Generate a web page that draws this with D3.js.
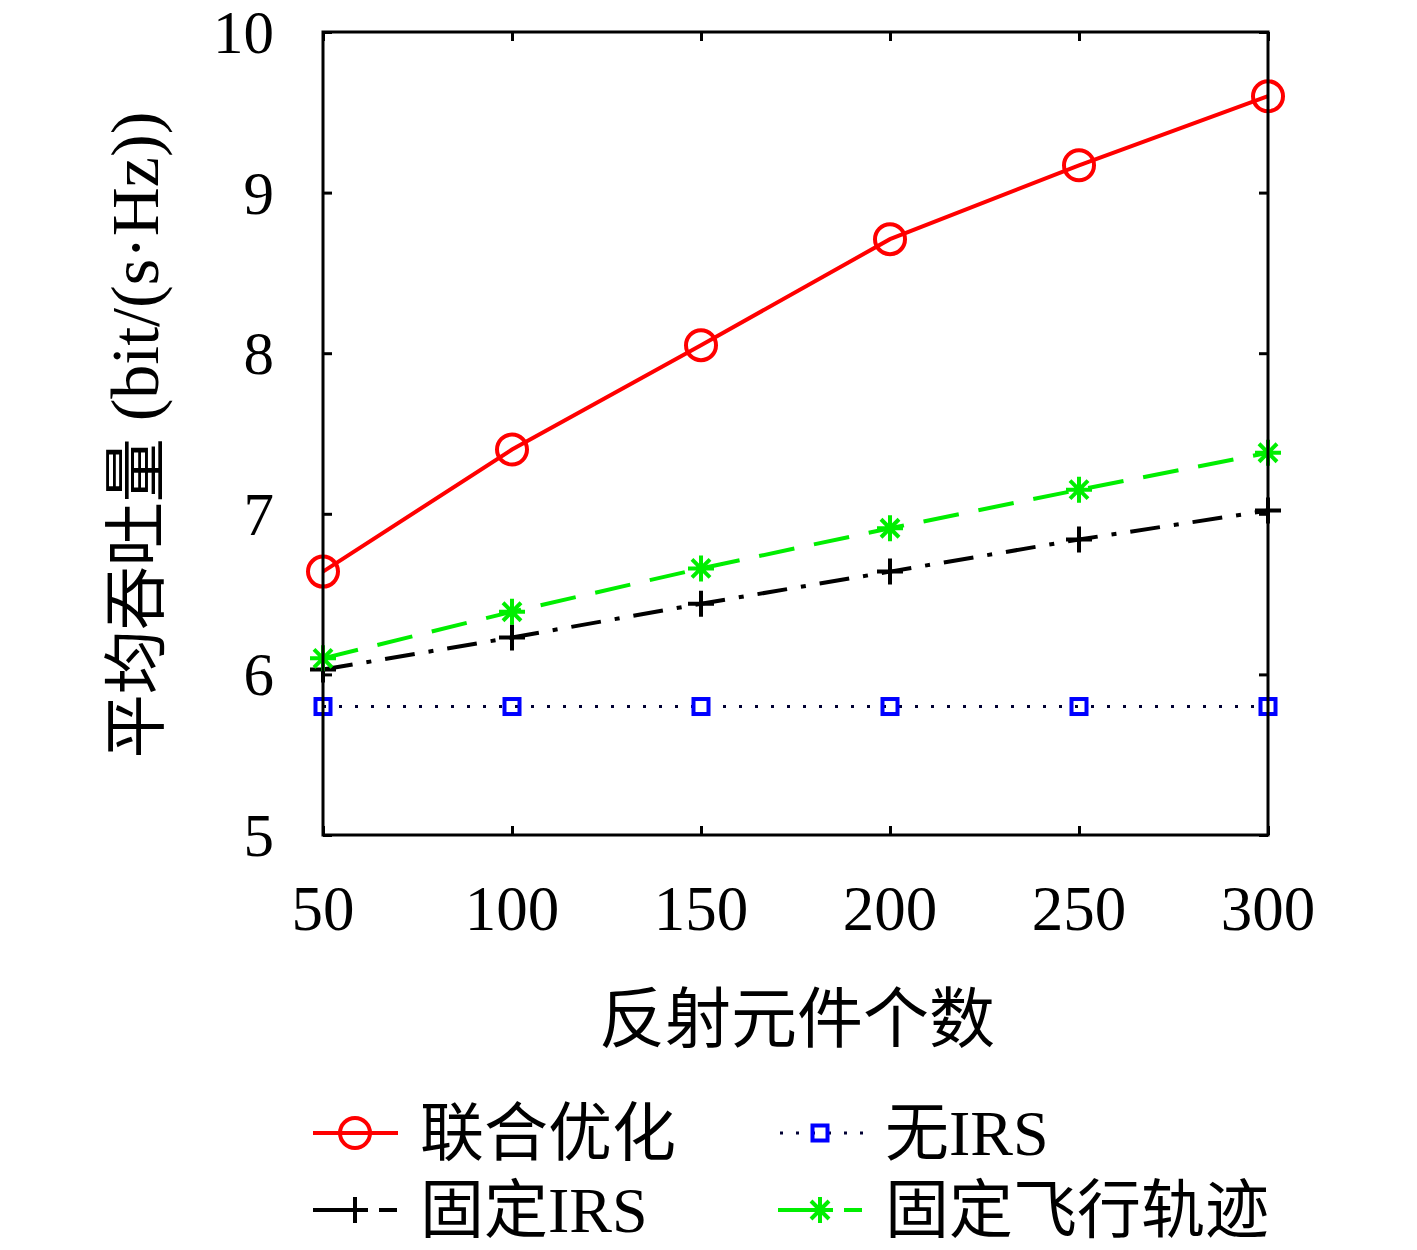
<!DOCTYPE html>
<html>
<head>
<meta charset="utf-8">
<script src="https://cdn.jsdelivr.net/npm/d3@7"></script>
<style>
  body { margin: 0; background: #fff; }
  text { fill: #000; }
</style>
</head>
<body>
<script>
// data
const elements = [50, 100, 150, 200, 250, 300];
const jointOpt = [6.64, 7.40, 8.05, 8.71, 9.17, 9.60];
const noIRS = [5.80, 5.80, 5.80, 5.80, 5.80, 5.80];
const fixedIRS = [6.03, 6.23, 6.44, 6.64, 6.84, 7.02];
const fixedTraj = [6.10, 6.39, 6.66, 6.91, 7.15, 7.38];
const yTicks = [5, 6, 7, 8, 9, 10];

const W = 1417, H = 1250;
const m = {left: 323, right: 1268, top: 32, bottom: 835};
const serif = '"Liberation Serif", "DejaVu Serif", serif';
const cjk = '"Noto Sans CJK SC", sans-serif';

const svg = d3.select('body').append('svg')
  .attr('width', W).attr('height', H);

const x = d3.scaleLinear().domain([50, 300]).range([m.left, m.right]);
const y = d3.scaleLinear().domain([5, 10]).range([m.bottom, m.top]);

// inward ticks on all four sides
const tick = 9;
const gAx = svg.append('g');
gAx.append('g').attr('transform', `translate(0,${m.bottom})`)
  .call(d3.axisTop(x).tickValues(elements).tickSize(tick).tickFormat(''));
gAx.append('g').attr('transform', `translate(0,${m.top})`)
  .call(d3.axisBottom(x).tickValues(elements).tickSize(tick).tickFormat(''));
gAx.append('g').attr('transform', `translate(${m.left},0)`)
  .call(d3.axisRight(y).tickValues(yTicks).tickSize(tick).tickFormat(''));
gAx.append('g').attr('transform', `translate(${m.right},0)`)
  .call(d3.axisLeft(y).tickValues(yTicks).tickSize(tick).tickFormat(''));
gAx.selectAll('.domain').remove();
gAx.selectAll('.tick line').attr('stroke', '#000').attr('stroke-width', 3);

// tick labels
svg.append('g').selectAll('text').data(elements).join('text')
  .attr('x', d => x(d)).attr('y', 930)
  .attr('text-anchor', 'middle')
  .style('font-family', serif).style('font-size', '63px')
  .text(d => d);
svg.append('g').selectAll('text').data(yTicks).join('text')
  .attr('x', 274).attr('y', d => y(d) + 21)
  .attr('text-anchor', 'end')
  .style('font-family', serif).style('font-size', '61px')
  .text(d => d);

// axis titles
svg.append('text')
  .attr('x', 797).attr('y', 1042)
  .attr('text-anchor', 'middle')
  .style('font-family', cjk).style('font-size', '66px')
  .text('反射元件个数');
const yl = svg.append('text')
  .attr('transform', 'translate(158,435) rotate(-90)')
  .attr('text-anchor', 'middle')
  .style('font-size', '64px');
yl.append('tspan').style('font-family', cjk).text('平均吞吐量');
yl.append('tspan').style('font-family', serif).style('font-size', '68px').text(' (bit/(s·Hz))');

// series
const series = [
  {name: '联合优化', vals: jointOpt, color: '#ff0000', dash: null, legendDash: null, marker: 'circle'},
  {name: '无IRS', vals: noIRS, color: '#0000ff', line: '#000033', dash: '3,13', legendDash: '3,13', marker: 'square'},
  {name: '固定IRS', vals: fixedIRS, color: '#000000', dash: '30,14,5,14', legendDash: '48,18,18', marker: 'plus'},
  {name: '固定飞行轨迹', vals: fixedTraj, color: '#00ee00', dash: '36,20', legendDash: '48,18,18', marker: 'star'}
];

const line = d3.line().x((d, i) => x(elements[i])).y(d => y(d));

function drawMarker(g, type, color) {
  if (type === 'circle') {
    g.append('circle').attr('r', 15).attr('fill', 'none')
      .attr('stroke', color).attr('stroke-width', 4);
  } else if (type === 'square') {
    g.append('rect').attr('x', -7.5).attr('y', -7.5).attr('width', 15).attr('height', 15)
      .attr('fill', 'none').attr('stroke', color).attr('stroke-width', 4);
  } else if (type === 'plus') {
    g.append('path').attr('d', 'M-13,0H13M0,-13V13')
      .attr('stroke', color).attr('stroke-width', 4);
  } else if (type === 'star') {
    g.append('path').attr('d', 'M-13,0H13M0,-13V13M-9,-9L9,9M-9,9L9,-9')
      .attr('stroke', color).attr('stroke-width', 4);
  }
}

const plot = svg.append('g');
series.forEach(s => {
  plot.append('path').datum(s.vals)
    .attr('d', line)
    .attr('fill', 'none')
    .attr('stroke', s.line || s.color)
    .attr('stroke-width', s.marker === 'square' ? 3 : 4)
    .attr('stroke-dasharray', s.dash);
});
series.forEach(s => {
  s.vals.forEach((v, i) => {
    const g = plot.append('g').attr('transform', `translate(${x(elements[i])},${y(v)})`);
    drawMarker(g, s.marker, s.color);
  });
});

// frame
svg.append('rect')
  .attr('x', m.left).attr('y', m.top)
  .attr('width', m.right - m.left).attr('height', m.bottom - m.top)
  .attr('fill', 'none').attr('stroke', '#000').attr('stroke-width', 3);

// legend
const legendPos = [
  {x: 313, y: 1133}, {x: 778, y: 1133},
  {x: 313, y: 1210}, {x: 778, y: 1210}
];
const lg = svg.append('g');
series.forEach((s, i) => {
  const p = legendPos[i];
  const g = lg.append('g').attr('transform', `translate(${p.x},${p.y})`);
  g.append('line').attr('x1', 0).attr('x2', 85).attr('y1', 0).attr('y2', 0)
    .attr('stroke', s.line || s.color)
    .attr('stroke-width', s.marker === 'square' ? 3 : 4)
    .attr('stroke-dasharray', s.legendDash)
    .attr('stroke-dashoffset', s.marker === 'square' ? -2 : 0);
  const mk = g.append('g').attr('transform', 'translate(42,0)');
  drawMarker(mk, s.marker, s.color);
  const t = g.append('text').attr('x', 107).attr('y', 22).style('font-size', '64px');
  const m1 = s.name.match(/^([^A-Z]*)([A-Z]*)$/);
  t.append('tspan').style('font-family', cjk).text(m1[1]);
  if (m1[2]) t.append('tspan').style('font-family', serif).text(m1[2]);
});
</script>
</body>
</html>
